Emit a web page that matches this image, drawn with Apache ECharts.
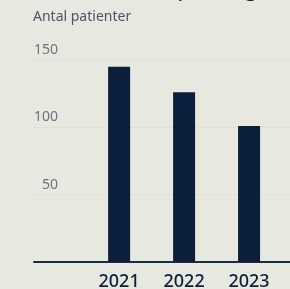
<!DOCTYPE html>
<html>
<head>
<meta charset="utf-8">
<script src="https://cdn.jsdelivr.net/npm/echarts@6/dist/echarts.min.js"></script>
<style>
  html, body { margin: 0; padding: 0; background: #e7e9e0; }
  #chart { width: 290px; height: 289px; }
</style>
</head>
<body>
<div id="chart"></div>
<script>
// data
const years = [2021, 2022, 2023];
const patients = [145, 126, 101];
const yTicks = [0, 50, 100, 150];

const navy = '#0b1f3d';

const chart = echarts.init(document.getElementById('chart'), null, { renderer: 'canvas' });

const option = {
  backgroundColor: '#e7e9e0',
  animation: false,
  textStyle: { fontFamily: 'Noto Sans' },
  graphic: [
    {
      // title is cut off at the top edge, only descenders show
      type: 'text',
      left: 114,
      top: -21,
      style: { text: 'Totalt per dag', font: '22px "Noto Sans"', fill: navy }
    },
    {
      type: 'text',
      left: 33,
      top: 10,
      style: { text: 'Antal patienter', font: '14px "Noto Sans"', fill: '#4a5563' }
    }
  ],
  grid: { left: 34, right: 0, top: 60, bottom: 27, outerBoundsMode: 'none' },
  xAxis: {
    type: 'value',
    min: 2019.69,
    max: 2023.63,
    splitLine: { show: false },
    axisTick: { show: false },
    axisLine: { show: true, lineStyle: { color: '#1c2d48', width: 2 } },
    axisLabel: {
      customValues: years,
      formatter: v => String(v),
      color: navy,
      fontSize: 18,
      fontWeight: 500,
      margin: 11
    }
  },
  yAxis: {
    type: 'value',
    min: yTicks[0],
    max: yTicks[yTicks.length - 1],
    interval: 50,
    axisLine: { show: false },
    axisTick: { show: false },
    splitLine: { lineStyle: { color: '#e5dcd3', width: 1 } },
    axisLabel: {
      showMinLabel: false,
      color: '#6b7380',
      fontSize: 14,
      align: 'right',
      verticalAlign: 'bottom',
      margin: -24,
      padding: [0, 0, 3, 0]
    }
  },
  series: [
    {
      type: 'bar',
      barWidth: 22,
      itemStyle: { color: navy },
      data: years.map((y, i) => [y, patients[i]])
    }
  ]
};

chart.setOption(option);
</script>
</body>
</html>
